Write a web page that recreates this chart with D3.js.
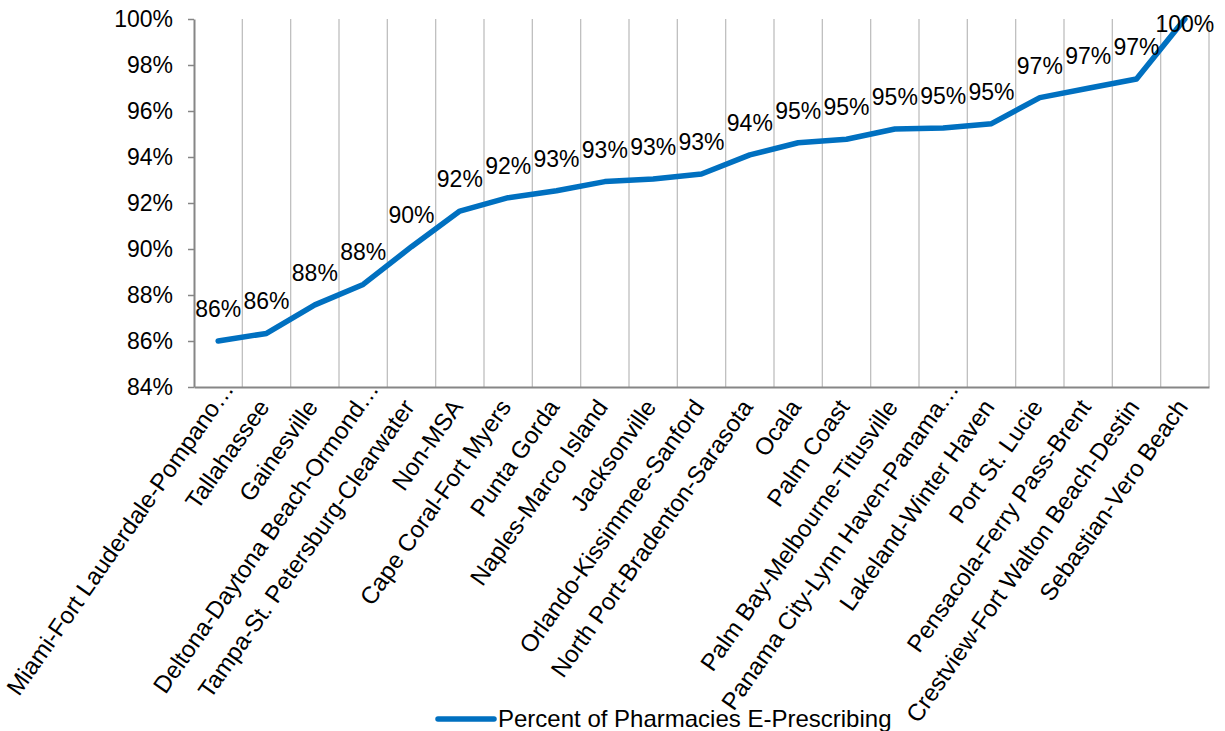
<!DOCTYPE html>
<html>
<head>
<meta charset="utf-8">
<script src="https://cdn.jsdelivr.net/npm/d3@7"></script>
<style>
  html, body { margin: 0; padding: 0; background: #fff; }
  svg { display: block; font-family: "Liberation Sans", Arial, sans-serif; }
</style>
</head>
<body>
<svg id="chart" width="1225" height="731"></svg>
<script>
const categories = [
  "Miami-Fort Lauderdale-Pompano…",
  "Tallahassee",
  "Gainesville",
  "Deltona-Daytona Beach-Ormond…",
  "Tampa-St. Petersburg-Clearwater",
  "Non-MSA",
  "Cape Coral-Fort Myers",
  "Punta Gorda",
  "Naples-Marco Island",
  "Jacksonville",
  "Orlando-Kissimmee-Sanford",
  "North Port-Bradenton-Sarasota",
  "Ocala",
  "Palm Coast",
  "Palm Bay-Melbourne-Titusville",
  "Panama City-Lynn Haven-Panama…",
  "Lakeland-Winter Haven",
  "Port St. Lucie",
  "Pensacola-Ferry Pass-Brent",
  "Crestview-Fort Walton Beach-Destin",
  "Sebastian-Vero Beach"
];
const values = [
  0.8600, 0.8633, 0.8757, 0.8846, 0.9010, 0.9165, 0.9223, 0.9253, 0.9293, 0.9304,
  0.9326, 0.9409, 0.9462, 0.9477, 0.9522, 0.9526, 0.9545, 0.9658, 0.9699, 0.9739, 1.0000
];
const yTicks = [0.84, 0.86, 0.88, 0.90, 0.92, 0.94, 0.96, 0.98, 1.00];
const seriesName = "Percent of Pharmacies E-Prescribing";

const svg = d3.select("#chart");
const plot = { left: 194, right: 1209, top: 19, bottom: 387 };
const color = "#0070C0";
const fontSize = 23;

const x = d3.scaleBand().domain(categories).range([plot.left, plot.right]).paddingInner(0).paddingOuter(0);
const y = d3.scaleLinear().domain([0.84, 1.0]).range([plot.bottom, plot.top]);
const pct = d3.format(".0%");

// vertical gridlines between categories
const gridX = categories.map((c) => x(c) + x.bandwidth());
svg.append("g").selectAll("line").data(gridX).join("line")
  .attr("x1", d => d).attr("x2", d => d)
  .attr("y1", plot.top).attr("y2", plot.bottom)
  .attr("stroke", "#bfbfbf").attr("stroke-width", 1.3);

// y axis
const yAxis = d3.axisLeft(y).tickValues(yTicks).tickFormat(pct).tickSizeInner(6).tickSizeOuter(0).tickPadding(15);
const gy = svg.append("g").attr("transform", `translate(${plot.left},0)`).call(yAxis);
gy.select(".domain").attr("stroke", "#868686").attr("stroke-width", 2);
gy.selectAll(".tick line").attr("stroke", "#868686").attr("stroke-width", 1.5);
gy.selectAll(".tick text").attr("font-size", fontSize).attr("font-family", "Liberation Sans, Arial, sans-serif").attr("fill", "#000");

// x axis
const xAxis = d3.axisBottom(x).tickSize(0).tickSizeOuter(0).tickPadding(0);
const gx = svg.append("g").attr("transform", `translate(0,${plot.bottom})`).call(xAxis);
gx.select(".domain").attr("stroke", "#868686").attr("stroke-width", 2);
gx.selectAll(".tick text")
  .attr("font-size", 24).attr("font-family", "Liberation Sans, Arial, sans-serif").attr("fill", "#000")
  .attr("text-anchor", "end")
  .attr("dy", null).attr("y", 0)
  .attr("dx", d => d.endsWith("…") ? 22 : 0)
  .attr("transform", "translate(4,20) rotate(-55)");

// line
const line = d3.line().x((d, i) => x(categories[i]) + x.bandwidth() / 2).y(d => y(d));
svg.append("path").datum(values)
  .attr("d", line)
  .attr("fill", "none").attr("stroke", color).attr("stroke-width", 5.5)
  .attr("stroke-linejoin", "round").attr("stroke-linecap", "round");

// data labels
svg.append("g").selectAll("text").data(values).join("text")
  .attr("x", (d, i) => x(categories[i]) + x.bandwidth() / 2)
  .attr("y", d => Math.max(y(d) - 24, plot.top + 13))
  .attr("text-anchor", "middle")
  .attr("font-size", fontSize).attr("fill", "#000")
  .text(d => pct(d));

// legend
const lg = svg.append("g").attr("transform", "translate(438,719)");
lg.append("line").attr("x1", 0).attr("x2", 56).attr("y1", 0).attr("y2", 0)
  .attr("stroke", color).attr("stroke-width", 5.5).attr("stroke-linecap", "round");
lg.append("text").attr("x", 60).attr("y", 8).attr("font-size", 24).attr("fill", "#000").text(seriesName);
</script>
</body>
</html>
